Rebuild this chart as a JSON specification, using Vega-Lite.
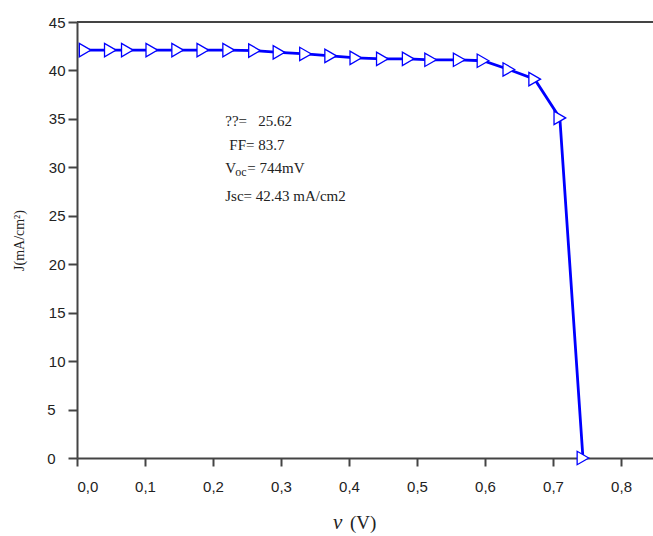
{
  "$schema": "https://vega.github.io/schema/vega-lite/v6.json",
  "autosize": "none",
  "width": 576,
  "height": 436,
  "padding": {"left": 77, "top": 22, "right": 0, "bottom": 78},
  "background": "white",
  "config": {"view": {"stroke": null}},
  "datasets": {
    "iv": [
      {"v": 0.012, "j": 42.1}, {"v": 0.049, "j": 42.1}, {"v": 0.074, "j": 42.1},
      {"v": 0.110, "j": 42.1}, {"v": 0.148, "j": 42.1}, {"v": 0.185, "j": 42.1},
      {"v": 0.223, "j": 42.1}, {"v": 0.261, "j": 42.05}, {"v": 0.297, "j": 41.87},
      {"v": 0.336, "j": 41.7}, {"v": 0.373, "j": 41.5}, {"v": 0.410, "j": 41.3},
      {"v": 0.449, "j": 41.2}, {"v": 0.487, "j": 41.2}, {"v": 0.520, "j": 41.1},
      {"v": 0.562, "j": 41.1}, {"v": 0.597, "j": 41.0}, {"v": 0.635, "j": 40.1},
      {"v": 0.673, "j": 39.1}, {"v": 0.710, "j": 35.1}, {"v": 0.744, "j": 0}
    ]
  },
  "layer": [
    {
      "data": {"name": "iv"},
      "mark": {"type": "line", "color": "#0000ff", "strokeWidth": 2.8},
      "encoding": {
        "x": {"field": "v", "type": "quantitative",
          "scale": {"domain": [0, 0.847], "nice": false, "zero": false},
          "axis": {
            "title": null,
            "values": [0, 0.1, 0.2, 0.3, 0.4, 0.5, 0.6, 0.7, 0.8],
            "labelExpr": "replace(format(datum.value, '.1f'), '.', ',')",
            "labelFont": "Liberation Sans", "labelFontSize": 15, "labelColor": "#222",
            "labelPadding": 13,
            "tickSize": 8, "tickColor": "#444", "domainColor": "#444", "domainWidth": 2,
            "tickWidth": 2, "grid": false
          }
        },
        "y": {"field": "j", "type": "quantitative",
          "scale": {"domain": [0, 45], "nice": false},
          "axis": {
            "title": "J(mA/cm²)", "titleFont": "Liberation Serif", "titleFontSize": 14,
            "titleFontWeight": "normal", "titleColor": "#222", "titlePadding": 20,
            "values": [0, 5, 10, 15, 20, 25, 30, 35, 40, 45],
            "labelFont": "Liberation Sans", "labelFontSize": 15, "labelColor": "#222",
            "labelPadding": {"condition": {"test": "datum.value < 10", "value": 13}, "value": 3},
            "tickSize": 9, "tickColor": "#444", "domainColor": "#444", "domainWidth": 2,
            "tickWidth": 2, "grid": false
          }
        }
      }
    },
    {
      "data": {"name": "iv"},
      "mark": {"type": "point", "shape": "triangle-right", "size": 180, "filled": true,
        "fill": "white", "stroke": "#0000ff", "strokeWidth": 1.3, "opacity": 1},
      "encoding": {
        "x": {"field": "v", "type": "quantitative"},
        "y": {"field": "j", "type": "quantitative"}
      }
    },
    {
      "data": {"values": [{"v": 0, "j": 45}, {"v": 0.847, "j": 45}]},
      "mark": {"type": "line", "color": "#444", "strokeWidth": 2},
      "encoding": {
        "x": {"field": "v", "type": "quantitative"},
        "y": {"field": "j", "type": "quantitative"}
      }
    },
    {
      "data": {"values": [
        {"v": 0.218, "j": 34.8, "t": "??=\u00a0\u00a0\u00a025.62"},
        {"v": 0.224, "j": 32.3, "t": "FF= 83.7"},
        {"v": 0.218, "j": 27.0, "t": "Jsc= 42.43 mA/cm2"}
      ]},
      "mark": {"type": "text", "align": "left", "baseline": "middle", "font": "Liberation Serif", "fontSize": 15, "color": "#222"},
      "encoding": {
        "x": {"field": "v", "type": "quantitative"},
        "y": {"field": "j", "type": "quantitative"},
        "text": {"field": "t"}
      }
    },
    {
      "data": {"values": [{"v": 0.218, "j": 29.9, "t": "V"}]},
      "mark": {"type": "text", "align": "left", "baseline": "middle", "font": "Liberation Serif", "fontSize": 15, "color": "#222"},
      "encoding": {
        "x": {"field": "v", "type": "quantitative"},
        "y": {"field": "j", "type": "quantitative"},
        "text": {"field": "t"}
      }
    },
    {
      "data": {"values": [{"v": 0.218, "j": 29.9, "t": "oc"}]},
      "mark": {"type": "text", "align": "left", "baseline": "middle", "font": "Liberation Serif", "fontSize": 12, "color": "#222", "dx": 10, "dy": 4},
      "encoding": {
        "x": {"field": "v", "type": "quantitative"},
        "y": {"field": "j", "type": "quantitative"},
        "text": {"field": "t"}
      }
    },
    {
      "data": {"values": [{"v": 0.218, "j": 29.9, "t": "= 744mV"}]},
      "mark": {"type": "text", "align": "left", "baseline": "middle", "font": "Liberation Serif", "fontSize": 15, "color": "#222", "dx": 22},
      "encoding": {
        "x": {"field": "v", "type": "quantitative"},
        "y": {"field": "j", "type": "quantitative"},
        "text": {"field": "t"}
      }
    },
    {
      "data": {"values": [{"v": 0.3765, "j": -6.7, "t": "v"}]},
      "mark": {"type": "text", "align": "left", "baseline": "middle", "font": "Liberation Serif", "fontStyle": "italic", "fontSize": 21, "color": "#222"},
      "encoding": {
        "x": {"field": "v", "type": "quantitative"},
        "y": {"field": "j", "type": "quantitative"},
        "text": {"field": "t"}
      }
    },
    {
      "data": {"values": [{"v": 0.4015, "j": -6.7, "t": "(V)"}]},
      "mark": {"type": "text", "align": "left", "baseline": "middle", "font": "Liberation Serif", "fontSize": 19, "color": "#222"},
      "encoding": {
        "x": {"field": "v", "type": "quantitative"},
        "y": {"field": "j", "type": "quantitative"},
        "text": {"field": "t"}
      }
    }
  ]
}
